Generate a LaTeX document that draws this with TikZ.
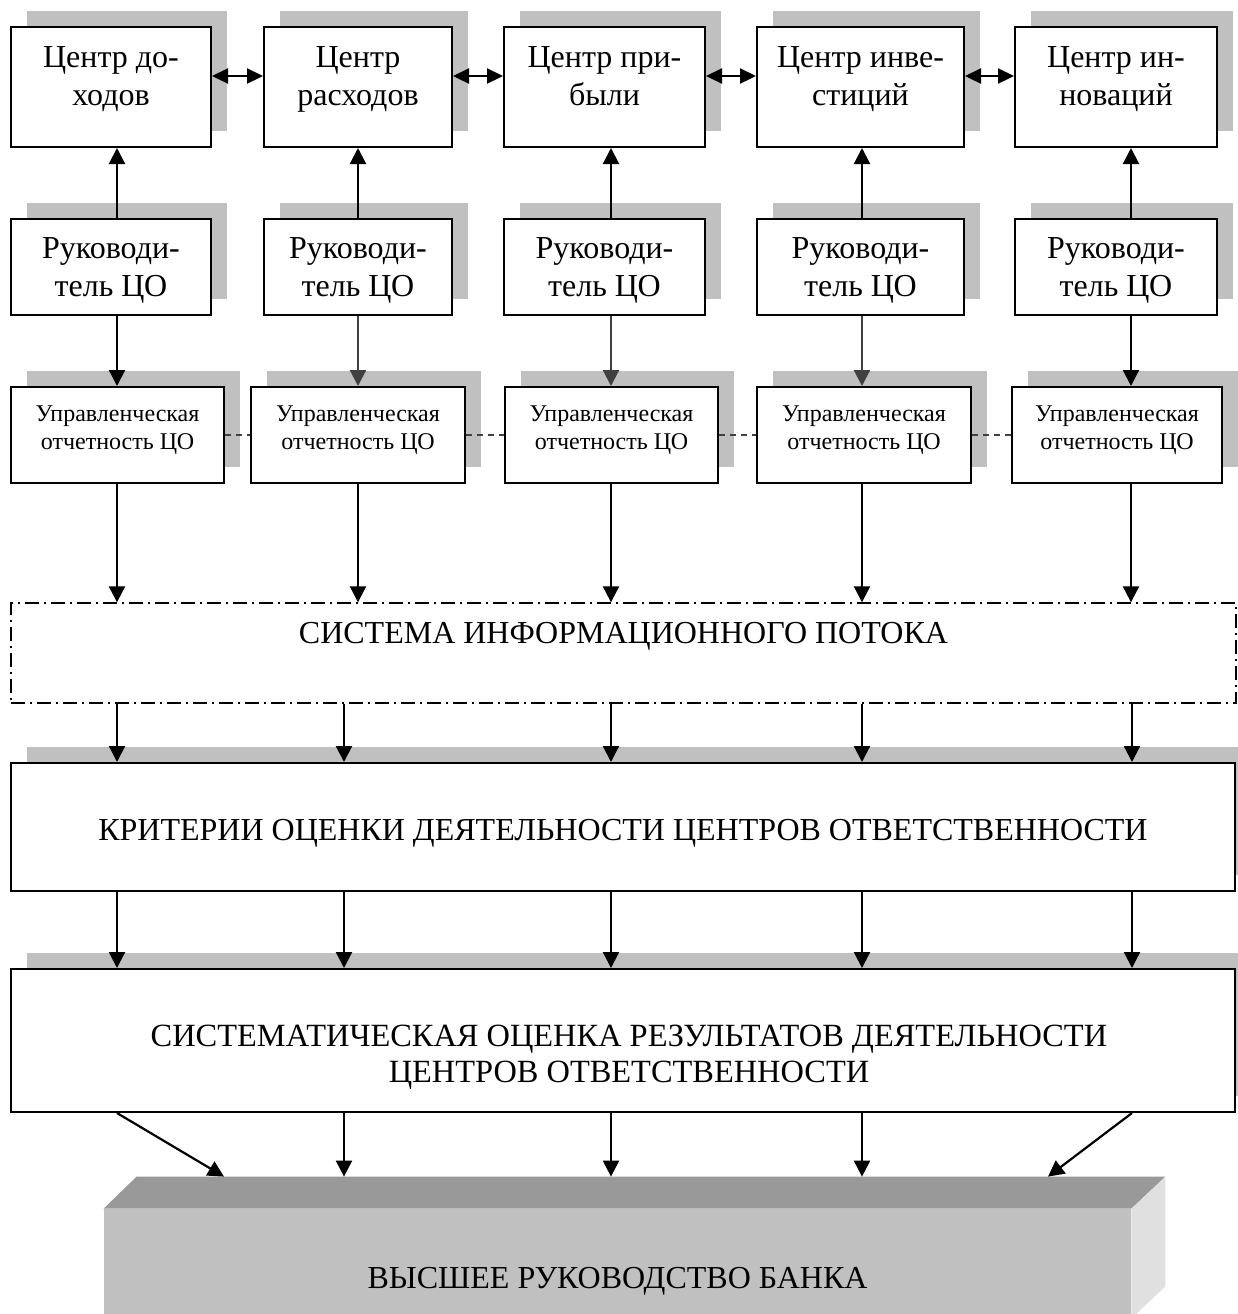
\documentclass[tikz,border=0pt]{standalone}
\usepackage{fontspec}
\setmainfont{Liberation Serif}
\usetikzlibrary{fit,shadows,arrows.meta,calc}
\definecolor{shade}{HTML}{C0C0C0}
\definecolor{facetop}{HTML}{999999}
\definecolor{facefront}{HTML}{C0C0C0}
\definecolor{faceside}{HTML}{E0E0E0}
\definecolor{darkline}{HTML}{404040}
\begin{document}
\begin{tikzpicture}[x=0.5pt,y=-0.5pt,
  box/.style={draw, line width=1pt, fill=white, inner sep=0pt,
    drop shadow={shadow xshift=8pt, shadow yshift=8pt, fill=shade, opacity=1}},
  flowbox/.style={draw, line width=0.7pt, inner sep=0pt,
    dash pattern=on 7pt off 2.5pt on 1pt off 2.5pt},
  lbl/.style={inner sep=0pt, anchor=north, align=center},
  big/.style={lbl, font=\fontsize{16}{19}\selectfont},
  small/.style={lbl, font=\fontsize{12}{14}\selectfont},
  caps/.style={lbl, font=\fontsize{16}{18}\selectfont},
  arr/.style={-{Triangle[length=8pt,width=8pt]}, line width=1.1pt},
  dbl/.style={{Triangle[length=8pt,width=7.5pt]}-{Triangle[length=8pt,width=7.5pt]}, line width=1.1pt},
  link/.style={line width=0.7pt, darkline, dash pattern=on 3pt off 2.5pt}
]
\useasboundingbox (0,0) rectangle (1238,1314);
\clip (0,0) rectangle (1238,1314);

% column positions of the vertical connectors
\coordinate (k1) at (117,0);
\coordinate (k2) at (358,0);
\coordinate (k3) at (611,0);
\coordinate (k4) at (862,0);
\coordinate (k5) at (1131,0);
\coordinate (m2) at (344,0);
\coordinate (m5) at (1132,0);
\coordinate (d1) at (224,0);
\coordinate (d5) at (1048,0);
\coordinate (hl) at (0,76);

% responsibility centres
\node[box, fit={(11,27) (211,147)}] (c1) {};
\node[box, fit={(264,27) (452,147)}] (c2) {};
\node[box, fit={(504,27) (705,147)}] (c3) {};
\node[box, fit={(757,27) (964,147)}] (c4) {};
\node[box, fit={(1015,27) (1217,147)}] (c5) {};
\node[big] (c1t) at (c1.north |- 0,46) {Центр до-\\ходов};
\node[big] (c2t) at (c2.north |- 0,46) {Центр\\расходов};
\node[big] (c3t) at (c3.north |- 0,46) {Центр при-\\были};
\node[big] (c4t) at (c4.north |- 0,46) {Центр инве-\\стиций};
\node[big] (c5t) at (c5.north |- 0,46) {Центр ин-\\новаций};

% heads of the centres
\node[box, fit={(11,219) (211,315)}] (r1) {};
\node[box, fit={(264,219) (452,315)}] (r2) {};
\node[box, fit={(504,219) (705,315)}] (r3) {};
\node[box, fit={(757,219) (964,315)}] (r4) {};
\node[box, fit={(1015,219) (1217,315)}] (r5) {};
\foreach \i in {1,...,5}
  \node[big] (r\i t) at (r\i.north |- 0,237) {Руководи-\\тель ЦО};

% management reporting
\node[box, fit={(11,387) (224,483)}] (u1) {};
\node[box, fit={(251,387) (465,483)}] (u2) {};
\node[box, fit={(505,387) (718,483)}] (u3) {};
\node[box, fit={(757,387) (971,483)}] (u4) {};
\node[box, fit={(1012,387) (1222,483)}] (u5) {};
\foreach \i in {1,...,5}
  \node[small] (u\i t) at (u\i.north |- 0,405) {Управленческая\\отчетность ЦО};

% information flow, criteria, evaluation
\node[flowbox, fit={(11,603) (1236,703)}] (flow) {};
\node[caps] (flowt) at (flow.north |- 0,622) {СИСТЕМА ИНФОРМАЦИОННОГО ПОТОКА};
\node[box, fit={(11,763) (1235,891)}] (crit) {};
\node[caps] (critt) at (crit.north |- 0,819) {КРИТЕРИИ ОЦЕНКИ ДЕЯТЕЛЬНОСТИ ЦЕНТРОВ ОТВЕТСТВЕННОСТИ};
\node[box, fit={(11,969) (1235,1112)}] (eval) {};
\node[caps, font=\fontsize{16.2}{18}\selectfont] (evalt) at ([xshift=3pt]eval.north |- 0,1025) {СИСТЕМАТИЧЕСКАЯ ОЦЕНКА РЕЗУЛЬТАТОВ ДЕЯТЕЛЬНОСТИ\\ЦЕНТРОВ ОТВЕТСТВЕННОСТИ};

% top management block drawn as a slab
\node[fill=facefront, inner sep=0pt, fit={(104,1209) (1131,1318)}] (board) {};
\coordinate (boardback) at ($(board.north west)+(33,-32)$);
\fill[facetop] (board.north west) -- (boardback) -- ($(board.north east)+(34,-32)$) -- (board.north east) -- cycle;
\fill[faceside] (board.north east) -- ($(board.north east)+(34,-32)$) -- ($(board.south east)+(34,-32)$) -- (board.south east) -- cycle;
\node[caps] (boardt) at (board.north |- 0,1267) {ВЫСШЕЕ РУКОВОДСТВО БАНКА};

% links between the centres
\draw[dbl] (c1.east |- hl) -- (c2.west |- hl);
\draw[dbl] (c2.east |- hl) -- (c3.west |- hl);
\draw[dbl] (c3.east |- hl) -- (c4.west |- hl);
\draw[dbl] (c4.east |- hl) -- (c5.west |- hl);

% links between the reports
\draw[link] (u1.east) -- (u2.west);
\draw[link] (u2.east) -- (u3.west);
\draw[link] (u3.east) -- (u4.west);
\draw[link] (u4.east) -- (u5.west);

% heads report to their centres
\foreach \i in {1,...,5}
  \draw[arr] (r\i.north -| k\i) -- (c\i.south -| k\i);
\draw[arr] (r1.south -| k1) -- (u1.north -| k1);
\draw[arr, darkline] (r2.south -| k2) -- (u2.north -| k2);
\draw[arr, darkline] (r3.south -| k3) -- (u3.north -| k3);
\draw[arr, darkline] (r4.south -| k4) -- (u4.north -| k4);
\draw[arr] (r5.south -| k5) -- (u5.north -| k5);
\foreach \i in {1,...,5}
  \draw[arr] (u\i.south -| k\i) -- (flow.north -| k\i);

% flow to criteria and evaluation
\foreach \c in {k1,m2,k3,k4,m5} {
  \draw[arr] (flow.south -| \c) -- (crit.north -| \c);
  \draw[arr] (crit.south -| \c) -- (eval.north -| \c);
}

% evaluation to top management
\draw[arr] (eval.south -| k1) -- (boardback -| d1);
\draw[arr] (eval.south -| m2) -- (boardback -| m2);
\draw[arr] (eval.south -| k3) -- (boardback -| k3);
\draw[arr] (eval.south -| k4) -- (boardback -| k4);
\draw[arr] (eval.south -| m5) -- (boardback -| d5);
\end{tikzpicture}
\end{document}
